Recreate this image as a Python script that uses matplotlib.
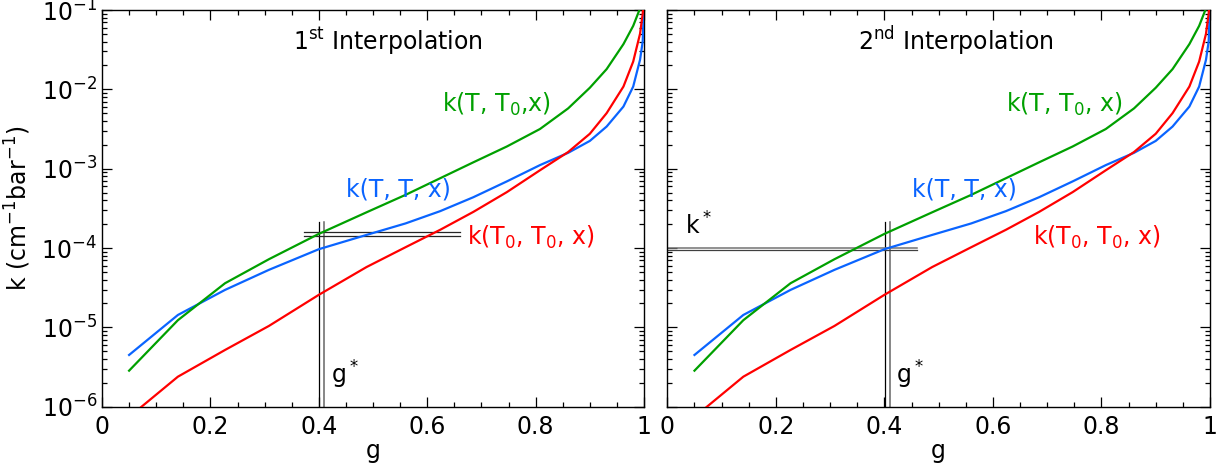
import numpy as np
import matplotlib
matplotlib.use("Agg")
import matplotlib.pyplot as plt
from matplotlib.ticker import MultipleLocator, LogLocator, FuncFormatter, NullFormatter

# cumulative probability grid g
g = [0.05, 0.14, 0.227, 0.308, 0.40, 0.488, 0.56, 0.624, 0.685, 0.747, 0.808,
     0.86, 0.90, 0.931, 0.962, 0.98, 0.9926, 0.9975, 1.0]

# log10 of absorption coefficient k (cm^-1 bar^-1)
log_k_T_T = [-5.348, -4.844, -4.528, -4.275, -4.015, -3.835, -3.69, -3.535,
             -3.36, -3.16, -2.955, -2.800, -2.650, -2.469, -2.217, -1.965,
             -1.628, -1.40, -0.95]
log_k_T_T0 = [-5.546, -4.910, -4.444, -4.141, -3.822, -3.550, -3.33, -3.12,
              -2.920, -2.720, -2.500, -2.240, -1.980, -1.745, -1.430, -1.200,
              -0.98, -0.80, -0.60]
log_k_T0_T0 = [-6.130, -5.622, -5.285, -4.982, -4.590, -4.240, -3.99, -3.770,
               -3.545, -3.295, -3.020, -2.790, -2.560, -2.300, -1.965, -1.65,
               -1.30, -1.05, -0.85]

# interpolation guide lines: (g positions, k levels, extent of horizontal lines)
gstar = [0.401, 0.41]
vline_top = 2.15e-4
hk_first = [1.58e-4, 1.42e-4]
hk_first_span = [0.372, 0.66]
hk_second = [1.01e-4, 9.5e-5]
hk_second_span = [0.0, 0.46]

panel_titles = [r'1$^{\mathrm{st}}$ Interpolation', r'2$^{\mathrm{nd}}$ Interpolation']
green_labels = [r'k(T, T$_0$,x)', r'k(T, T$_0$, x)']

c_blue = '#0a64ff'
c_green = '#00a000'
c_red = '#ff0000'

plt.rcParams['font.family'] = 'DejaVu Sans'
plt.rcParams['mathtext.fontset'] = 'dejavusans'

fig = plt.figure(figsize=(12.2, 4.7), dpi=100)
ax1 = fig.add_axes([0.0836, 0.1347, 0.4443, 0.844])
ax2 = fig.add_axes([0.547, 0.1347, 0.4448, 0.844])

gx = np.array(g)
series = [(log_k_T_T, c_blue), (log_k_T0_T0, c_red), (log_k_T_T0, c_green)]

fs_tick = 17
fs_text = 17

for i, ax in enumerate([ax1, ax2]):
    for vals, col in series:
        ax.plot(gx, 10.0 ** np.array(vals), color=col, lw=1.6, zorder=3)
    ax.set_yscale('log')
    ax.set_xlim(0, 1)
    ax.set_ylim(1e-6, 1e-1)

    ax.xaxis.set_major_locator(MultipleLocator(0.2))
    ax.xaxis.set_minor_locator(MultipleLocator(0.05))
    ax.xaxis.set_major_formatter(FuncFormatter(lambda v, p: '%g' % round(v, 2)))
    ax.yaxis.set_major_locator(LogLocator(base=10, numticks=10))
    ax.yaxis.set_minor_locator(LogLocator(base=10, subs=np.arange(2, 10), numticks=20))
    ax.yaxis.set_minor_formatter(NullFormatter())
    ax.tick_params(which='both', direction='in', top=True, right=True,
                   width=0.9, labelsize=fs_tick)
    ax.tick_params(which='major', length=7)
    ax.tick_params(which='minor', length=3.5)
    ax.tick_params(axis='x', pad=6)
    for sp in ax.spines.values():
        sp.set_linewidth(1.0)
    ax.set_xlabel('g', fontsize=fs_text, labelpad=0)

    ax.text(0.352, 10 ** -1.502, panel_titles[i], fontsize=fs_text,
            ha='left', va='baseline')
    gx0 = 0.627 if i == 0 else 0.624
    ax.text(gx0, 10 ** -2.280, green_labels[i], color=c_green,
            fontsize=fs_text, ha='left', va='baseline')
    ax.text(0.451, 10 ** -3.352, r'k(T, T, x)', color=c_blue,
            fontsize=fs_text, ha='left', va='baseline')
    ax.text(0.673, 10 ** -3.961, r'k(T$_0$, T$_0$, x)', color=c_red,
            fontsize=fs_text, ha='left', va='baseline')
    ax.text(0.423 if i == 0 else 0.421, 10 ** -5.705, r'g$^*$',
            fontsize=fs_text, ha='left', va='baseline')

    ax.plot([gstar[0]] * 2, [1e-6, vline_top], color='black', lw=0.9, zorder=2)
    ax.plot([gstar[1]] * 2, [1e-6, vline_top], color='0.4', lw=1.1, zorder=2)

ax1.plot(hk_first_span, [hk_first[0]] * 2, color='0.15', lw=0.9, zorder=2)
ax1.plot(hk_first_span, [hk_first[1]] * 2, color='0.15', lw=0.9, zorder=2)
ax2.plot(hk_second_span, [hk_second[0]] * 2, color='0.45', lw=1.1, zorder=2)
ax2.plot(hk_second_span, [hk_second[1]] * 2, color='0.25', lw=0.9, zorder=2)
ax2.text(0.0326, 10 ** -3.835, r'k$^*$', fontsize=fs_text, ha='left', va='baseline')

ax2.tick_params(axis='y', which='both', labelleft=False)
ax1.set_ylabel(r'k (cm$^{\mathrm{-1}}$bar$^{\mathrm{-1}}$)', fontsize=fs_text, labelpad=6)

fig.savefig('out.png', dpi=100)
